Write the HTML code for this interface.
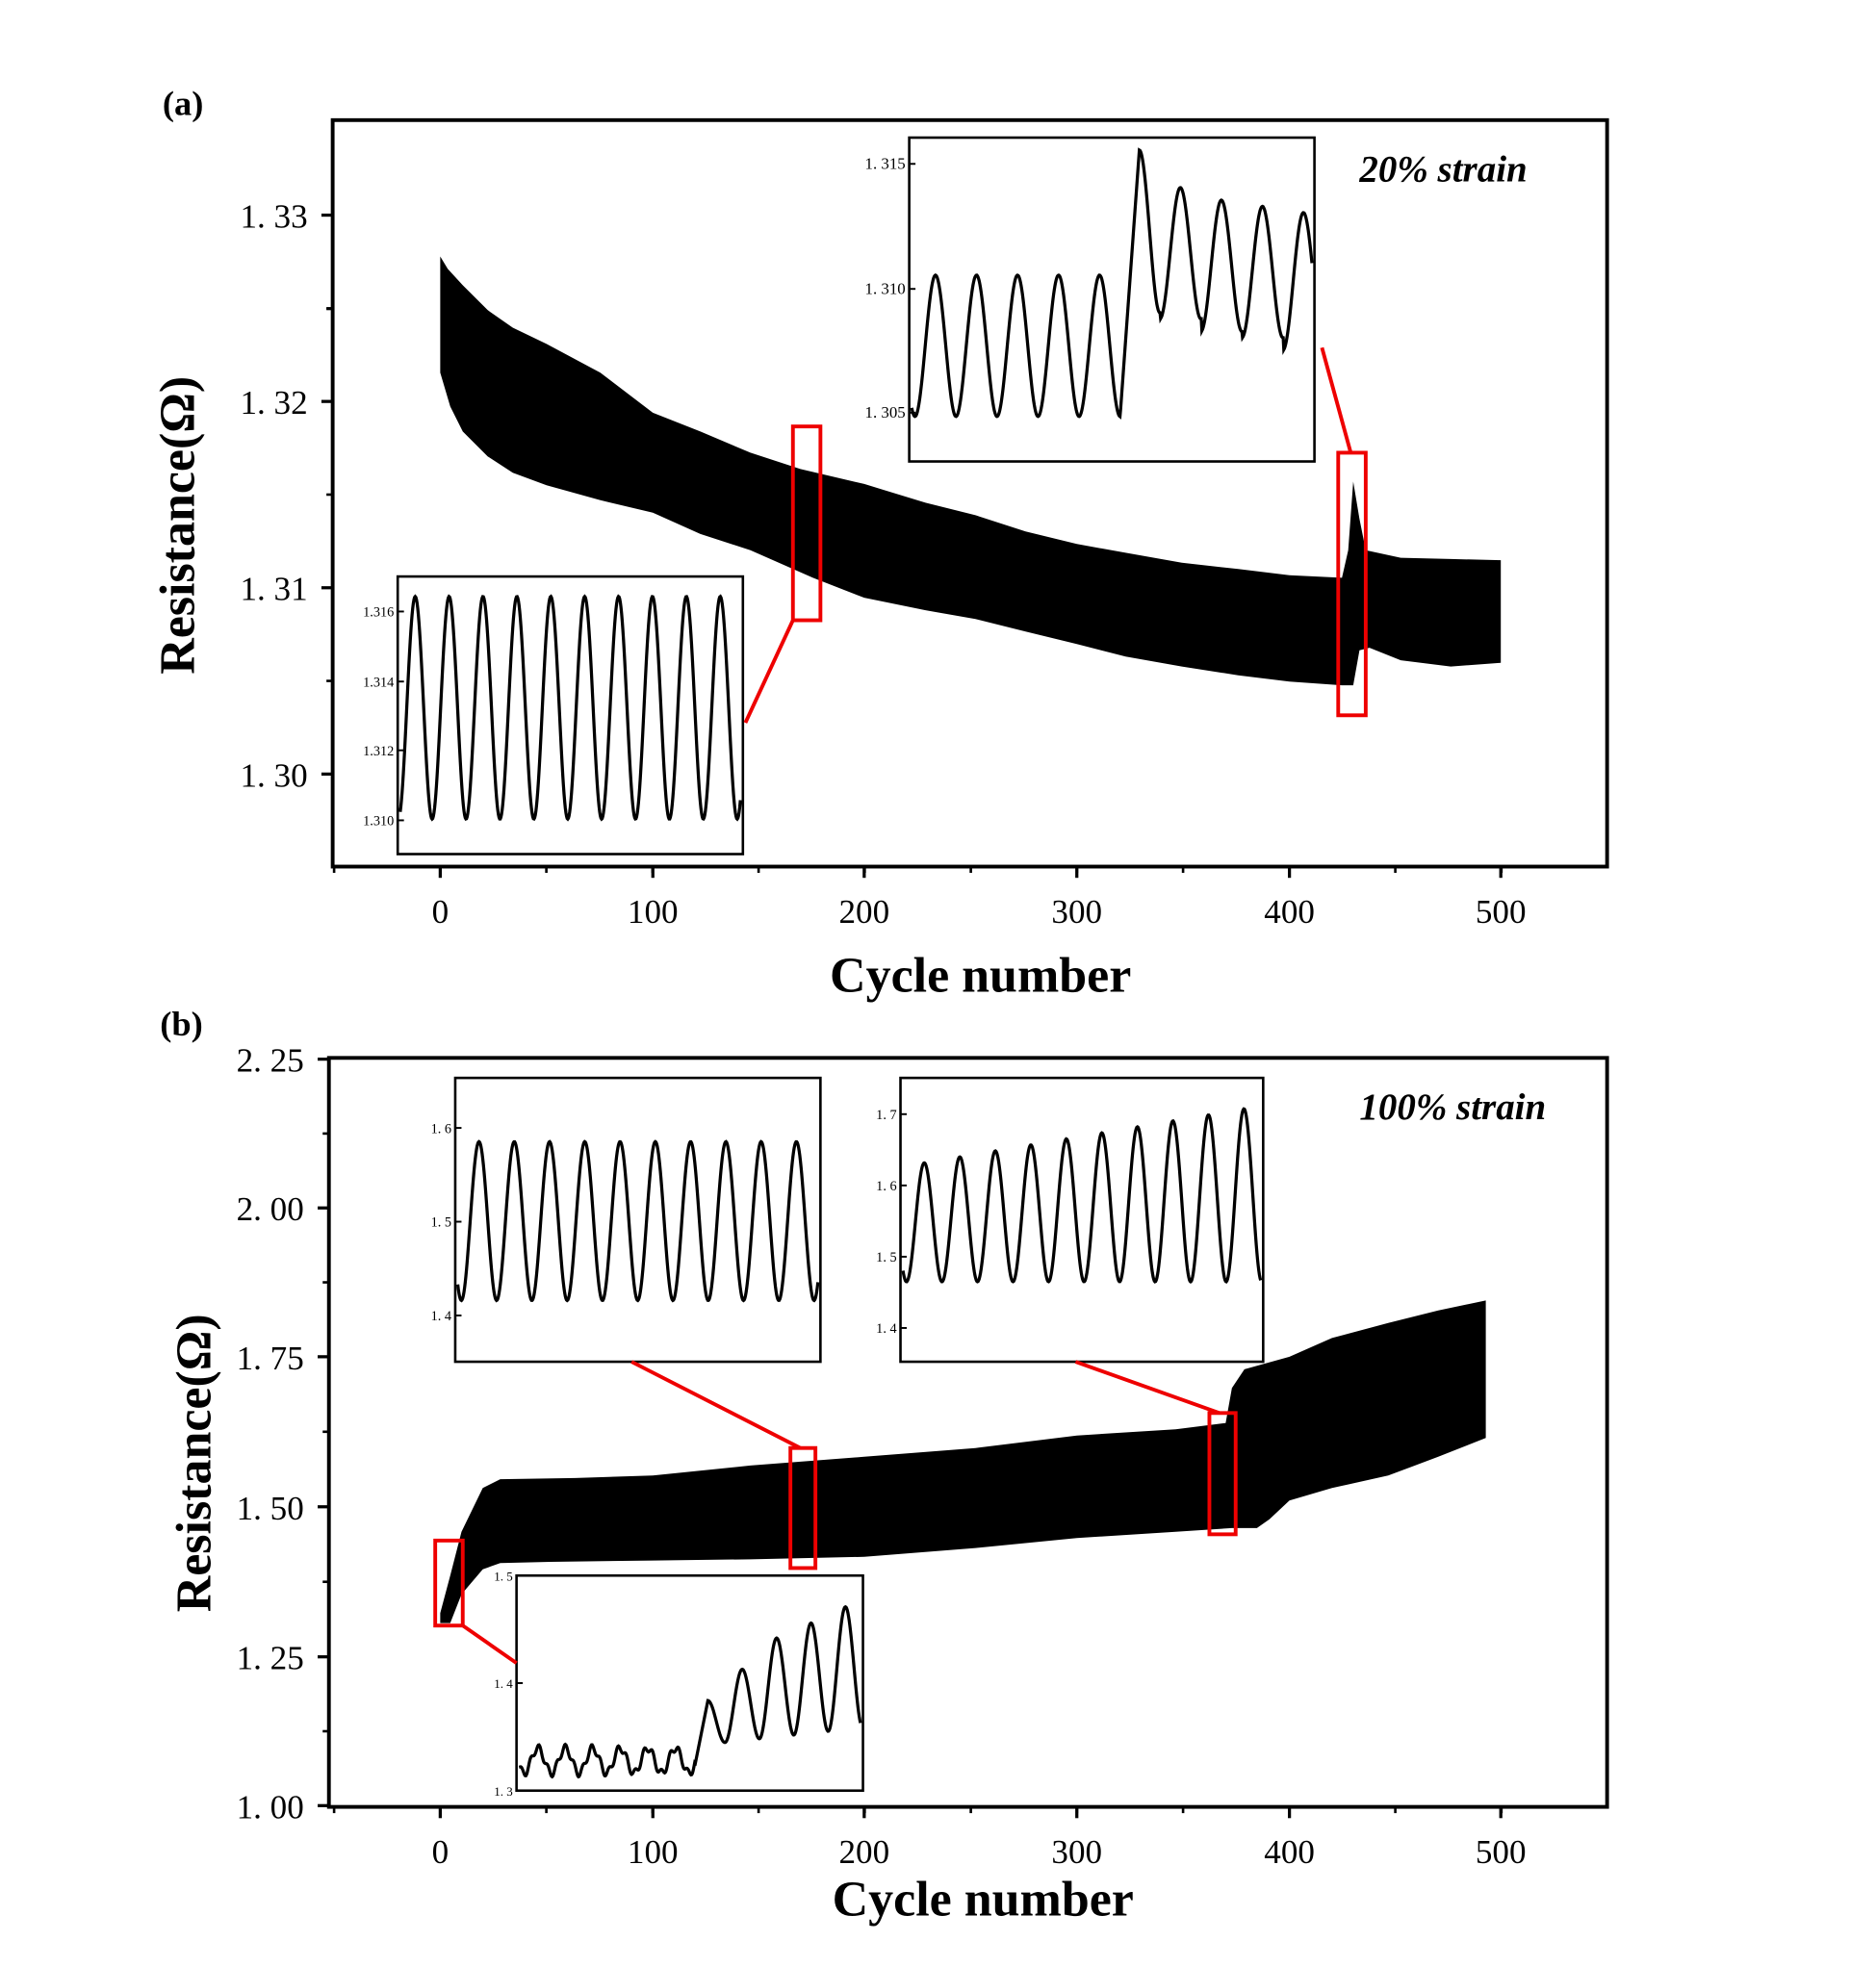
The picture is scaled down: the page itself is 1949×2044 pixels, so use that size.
<!DOCTYPE html>
<html><head><meta charset="utf-8"><style>
html,body{margin:0;padding:0;background:#fff;}
svg{display:block;}
text{font-family:"Liberation Serif",serif;fill:#000;}
</style></head><body>
<svg id="s" width="1949" height="2044" viewBox="0 0 1500 1573" xmlns="http://www.w3.org/2000/svg">
<rect width="1500" height="1573" fill="#fff"/>
<text x="130" y="92" font-size="28" font-weight="bold">(a)</text>
<path d="M352,205 L358,215 L370,228 L390,248 L410,262 L437,275 L480,298 L522,330 L560,345 L600,362 L640,375 L691,387 L740,402 L780,412 L820,425 L861,435 L900,442 L945,450 L990,455 L1031,460 L1073,462 L1078,440 L1082,385 L1087,415 L1092,440 L1120,446 L1160,447 L1200,448 L1200,530 L1160,533 L1120,528 L1095,518 L1087,520 L1082,548 L1073,548 L1031,545 L990,540 L945,533 L900,525 L861,515 L820,505 L780,495 L740,488 L691,478 L650,462 L600,440 L560,427 L522,410 L480,400 L437,388 L410,378 L390,365 L370,345 L360,325 L352,298 Z" fill="#000"/>
<rect x="266" y="96" width="1019" height="597" fill="none" stroke="#000" stroke-width="3"/>
<g id="ay"></g>
<text transform="translate(155,420) rotate(-90)" font-size="40" font-weight="bold" text-anchor="middle">Resistance(Ω)</text>
<text x="784" y="793" font-size="40" font-weight="bold" text-anchor="middle">Cycle number</text>
<text x="1087" y="145" font-size="30" font-weight="bold" font-style="italic">20% strain</text>
<rect x="318" y="461" width="276" height="222" fill="#fff" stroke="#000" stroke-width="2"/>
<rect x="727" y="110" width="324" height="259" fill="#fff" stroke="#000" stroke-width="2"/>
<g fill="none" stroke="#e00" stroke-width="3">
<rect x="634" y="341" width="22" height="155"/><line x1="634" y1="496" x2="596" y2="578"/>
<rect x="1070" y="362" width="22" height="210"/><line x1="1057" y1="278" x2="1080" y2="362"/>
</g>
<text x="128" y="828" font-size="28" font-weight="bold">(b)</text>
<path d="M352,1290 L360,1260 L369,1225 L386,1190 L400,1183 L460,1182 L522,1180 L600,1172 L691,1165 L780,1158 L861,1148 L940,1143 L980,1138 L985,1110 L995,1095 L1031,1085 L1065,1070 L1110,1058 L1150,1048 L1188,1040 L1188,1150 L1150,1165 L1110,1180 L1065,1190 L1031,1200 L1015,1215 L1005,1222 L985,1222 L940,1225 L861,1230 L780,1238 L691,1245 L600,1247 L522,1248 L440,1249 L400,1250 L386,1255 L369,1275 L360,1298 L352,1298 Z" fill="#000"/>
<rect x="263" y="846" width="1022" height="599" fill="none" stroke="#000" stroke-width="3"/>
<g id="by"></g>
<text transform="translate(168,1170) rotate(-90)" font-size="40" font-weight="bold" text-anchor="middle">Resistance(Ω)</text>
<text x="786" y="1532" font-size="40" font-weight="bold" text-anchor="middle">Cycle number</text>
<text x="1087" y="895" font-size="30" font-weight="bold" font-style="italic">100% strain</text>
<rect x="364" y="862" width="292" height="227" fill="#fff" stroke="#000" stroke-width="2"/>
<rect x="720" y="862" width="290" height="227" fill="#fff" stroke="#000" stroke-width="2"/>
<rect x="413" y="1260" width="277" height="172" fill="#fff" stroke="#000" stroke-width="2"/>
<g fill="none" stroke="#e00" stroke-width="3">
<rect x="348" y="1232" width="22" height="68"/><line x1="370" y1="1300" x2="413" y2="1330"/>
<rect x="632" y="1158" width="20" height="96"/><line x1="505" y1="1089" x2="640" y2="1158"/>
<rect x="967" y="1130" width="21" height="97"/><line x1="860" y1="1089" x2="975" y2="1130"/>
</g>
<g id="ins" fill="none" stroke="#000" stroke-width="2.5"></g>
<g id="itx"></g>
</svg>
<script>
var NS="http://www.w3.org/2000/svg";
function el(p,t,a,txt){var e=document.createElementNS(NS,t);for(var k in a)e.setAttribute(k,a[k]);if(txt!=null)e.textContent=txt;document.getElementById(p).appendChild(e);}
function axes(g,L,B,yt,ylab){
 var xs=[352,522,691,861,1031,1200];
 for(var i=0;i<6;i++){el(g,'line',{x1:xs[i],y1:B,x2:xs[i],y2:B+9,stroke:'#000','stroke-width':2.5});
  el(g,'text',{x:xs[i],y:B+45,'font-size':27,'text-anchor':'middle'},String(i*100));}
 for(var v=-50;v<=550;v+=50){var x=352+v*1.697;if(x>L&&x<1285)el(g,'line',{x1:x,y1:B,x2:x,y2:B+5,stroke:'#000','stroke-width':2});}
 for(var i=0;i<yt.length;i++){el(g,'line',{x1:L-9,y1:yt[i],x2:L,y2:yt[i],stroke:'#000','stroke-width':2.5});
  el(g,'text',{x:L-20,y:yt[i]+10,'font-size':27,'text-anchor':'end'},ylab[i]);
  if(i<yt.length-1){var m=(yt[i]+yt[i+1])/2;el(g,'line',{x1:L-5,y1:m,x2:L,y2:m,stroke:'#000','stroke-width':2});}}
}
axes('ay',266,693,[172,321,470,619],['1. 33','1. 32','1. 31','1. 30']);
el('ay','line',{x1:261,y1:247,x2:266,y2:247,stroke:'#000','stroke-width':2});
axes('by',263,1445,[847,966,1085,1205,1325,1444],['2. 25','2. 00','1. 75','1. 50','1. 25','1. 00']);
function itick(L,ys,labs,fs){for(var i=0;i<ys.length;i++){el('itx','line',{x1:L,y1:ys[i],x2:L+5,y2:ys[i],stroke:'#000','stroke-width':1.5});
 el('itx','text',{x:L-3,y:ys[i]+4,'font-size':fs,'text-anchor':'end'},labs[i]);}}
itick(318,[489,545,600,656],['1.316','1.314','1.312','1.310'],11);
itick(727,[131,231,330],['1. 315','1. 310','1. 305'],13);
itick(364,[902,977,1052],['1. 6','1. 5','1. 4'],11);
itick(720,[891,948,1005,1062],['1. 7','1. 6','1. 5','1. 4'],11);
itick(413,[1260,1346,1432],['1. 5','1. 4','1. 3'],10);
function path(x0,x1,f){var d='';for(var x=x0;x<=x1;x+=0.5){d+=(d?'L':'M')+x.toFixed(1)+','+f(x).toFixed(1);}el('ins','path',{d:d});}
path(320,592,function(x){return 566-89*Math.cos(2*Math.PI*(x-332)/27.1);});
path(729,1049,function(x){
 if(x<895.6)return 276.5-56.5*Math.cos(2*Math.PI*(x-748)/32.8);
 if(x<911)return 333-(333-120)*(x-895.6)/15.4;
 var k=Math.floor((x-911+16)/32.8);var pk=[120,150,160,165,170][Math.max(0,Math.min(4,k))];var tr=[250,255,265,270,280][Math.max(0,Math.min(4,k))];
 var c=Math.cos(2*Math.PI*(x-911)/32.8);return (pk+tr)/2-(tr-pk)/2*c;});
path(366,654,function(x){return 976.5-63.5*Math.cos(2*Math.PI*(x-383)/28.2);});
path(722,1008,function(x){var t=(x-739)/28.4;var pk=930-Math.max(0,t)*4.8;return (pk+1025)/2-(1025-pk)/2*Math.cos(2*Math.PI*t);});
path(415,688,function(x){
 if(x<556){var c=Math.cos(2*Math.PI*(x-430)/22);return 1408-10*c+3*Math.sin(x*0.9);}
 var t=(x-566)/27.5;var k=Math.round(t);var pk=[1360,1335,1310,1298,1285][Math.max(0,Math.min(4,k))];var tr=1395-Math.max(0,t)*3;
 var c2=Math.cos(2*Math.PI*t);var v=(pk+tr)/2-(tr-pk)/2*c2;if(x<566)v=1410-(1410-1360)*Math.max(0,(x-556)/10);return v;});
</script>
</body></html>
